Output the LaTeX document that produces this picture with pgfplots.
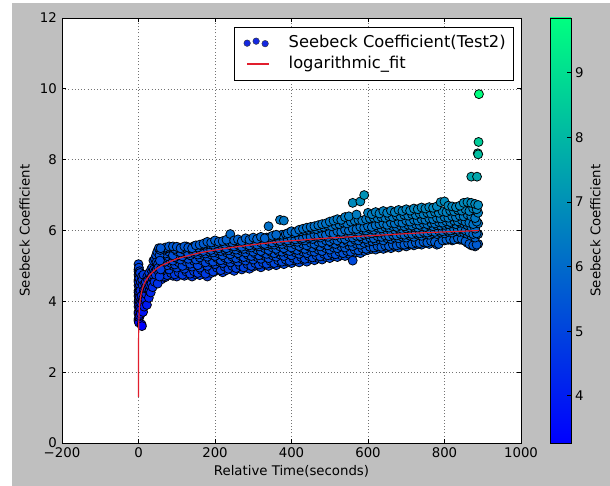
\documentclass[border=0pt]{standalone}
\usepackage{pgfplots}
\pgfplotsset{compat=1.18}
\usepackage{pgfplotstable}
\usepackage{fontspec}
\setmainfont{DejaVu Sans}

\definecolor{figgray}{RGB}{191,191,191}
\definecolor{fitred}{RGB}{225,30,45}
\definecolor{legblue}{RGB}{20,40,225}
\definecolor{winterlow}{RGB}{0,0,255}
\definecolor{winterhigh}{RGB}{0,255,128}

% Seebeck coefficient samples: five readings per 10 s window
\pgfplotstableread{
x   a    b    c    d    e
60  4.62 4.85 5.05 5.28 5.48
70  4.68 4.95 5.12 5.35 5.52
80  4.75 4.90 5.20 5.40 5.55
90  4.72 5.00 5.15 5.30 5.55
100 4.70 4.95 5.22 5.42 5.54
110 4.78 5.05 5.18 5.38 5.50
120 4.72 4.92 5.25 5.45 5.55
130 4.80 5.02 5.20 5.35 5.52
140 4.70 4.98 5.28 5.44 5.50
150 4.76 5.06 5.18 5.40 5.58
160 4.74 4.95 5.24 5.46 5.60
170 4.82 5.08 5.30 5.42 5.63
180 4.70 5.00 5.26 5.50 5.68
190 4.80 5.10 5.32 5.45 5.66
200 4.85 5.05 5.28 5.52 5.72
210 4.90 5.12 5.35 5.50 5.68
220 4.82 5.08 5.30 5.55 5.70
230 4.88 5.15 5.38 5.50 5.74
240 4.92 5.10 5.33 5.58 5.90
250 4.86 5.18 5.40 5.55 5.72
260 4.95 5.12 5.36 5.60 5.75
270 4.90 5.20 5.42 5.54 5.70
280 5.00 5.15 5.38 5.62 5.78
290 4.92 5.22 5.45 5.58 5.74
300 4.98 5.18 5.40 5.65 5.80
310 5.02 5.25 5.46 5.60 5.76
320 4.96 5.20 5.42 5.66 5.82
330 5.05 5.28 5.50 5.62 5.78
340 5.00 5.22 5.45 5.70 6.12
350 5.06 5.30 5.52 5.66 5.85
360 5.02 5.26 5.48 5.72 5.88
370 5.10 5.32 5.55 5.70 6.30
380 5.05 5.28 5.50 5.75 6.28
390 5.12 5.35 5.58 5.72 5.92
400 5.08 5.30 5.52 5.78 5.98
410 5.15 5.38 5.60 5.75 5.95
420 5.10 5.34 5.56 5.80 6.02
430 5.18 5.40 5.62 5.78 6.05
440 5.12 5.36 5.58 5.84 6.08
450 5.20 5.42 5.65 5.82 6.10
460 5.16 5.40 5.62 5.88 6.12
470 5.22 5.46 5.68 5.85 6.15
480 5.18 5.42 5.66 5.90 6.18
490 5.25 5.50 5.72 5.88 6.20
500 5.22 5.46 5.70 5.95 6.25
510 5.28 5.52 5.75 5.92 6.28
520 5.25 5.50 5.72 5.98 6.32
530 5.30 5.55 5.78 5.96 6.30
540 5.28 5.52 5.76 6.02 6.38
550 5.34 5.58 5.82 6.00 6.40
560 5.15 5.56 5.80 6.05 6.78
570 5.38 5.62 5.85 6.04 6.45
580 5.36 5.60 5.84 6.10 6.82
590 5.42 5.65 5.88 6.08 7.00
600 5.45 5.68 5.90 6.12 6.50
610 5.48 5.70 5.92 6.10 6.46
620 5.46 5.72 5.95 6.15 6.52
630 5.50 5.75 5.94 6.18 6.48
640 5.48 5.72 5.98 6.20 6.55
650 5.52 5.78 6.00 6.16 6.50
660 5.50 5.76 5.98 6.22 6.56
670 5.55 5.80 6.02 6.20 6.52
680 5.52 5.78 6.05 6.25 6.58
690 5.58 5.82 6.04 6.22 6.55
700 5.55 5.80 6.06 6.28 6.60
710 5.60 5.85 6.08 6.25 6.56
720 5.58 5.82 6.10 6.30 6.62
730 5.62 5.88 6.08 6.28 6.60
740 5.60 5.85 6.12 6.32 6.65
750 5.65 5.90 6.10 6.30 6.62
760 5.62 5.88 6.14 6.34 6.66
770 5.68 5.92 6.12 6.32 6.64
780 5.60 5.90 6.15 6.36 6.68
790 5.70 5.94 6.14 6.34 6.80
800 5.72 5.92 6.16 6.38 6.82
810 5.74 5.96 6.18 6.36 6.70
820 5.72 5.94 6.20 6.40 6.68
830 5.76 5.98 6.18 6.38 6.66
840 5.74 5.96 6.22 6.42 6.70
850 5.72 5.95 6.20 6.40 6.78
860 5.65 5.90 6.15 6.45 6.80
870 5.58 5.85 6.10 6.40 6.78
880 5.55 5.80 6.05 6.35 6.75
888 5.62 5.90 6.20 6.50 6.72
}\seebeck

% readings taken half-way between the windows above
\pgfplotstableread{
x   p    q    r    s
65  4.70 4.98 5.22 5.45
75  4.74 5.02 5.28 5.50
85  4.80 5.08 5.32 5.52
95  4.76 5.04 5.25 5.48
105 4.82 5.10 5.30 5.52
115 4.75 5.00 5.27 5.48
125 4.84 5.12 5.34 5.55
135 4.78 5.06 5.30 5.50
145 4.85 5.14 5.36 5.56
155 4.80 5.02 5.32 5.52
165 4.88 5.16 5.38 5.58
175 4.78 5.10 5.35 5.60
185 4.90 5.18 5.40 5.62
195 4.84 5.12 5.38 5.60
205 4.95 5.22 5.44 5.64
215 4.88 5.16 5.42 5.66
225 4.98 5.24 5.46 5.62
235 4.92 5.20 5.44 5.68
245 5.00 5.26 5.50 5.66
255 4.94 5.22 5.46 5.70
265 5.02 5.30 5.52 5.68
275 4.96 5.25 5.48 5.72
285 5.05 5.32 5.55 5.70
295 5.00 5.28 5.52 5.75
305 5.08 5.35 5.58 5.72
315 5.04 5.30 5.55 5.78
325 5.10 5.38 5.60 5.76
335 5.06 5.34 5.58 5.80
345 5.14 5.40 5.62 5.82
355 5.08 5.36 5.60 5.84
365 5.16 5.42 5.65 5.86
375 5.12 5.40 5.62 5.88
385 5.18 5.45 5.68 5.90
395 5.14 5.42 5.66 5.94
405 5.22 5.48 5.70 5.92
415 5.18 5.45 5.68 5.96
425 5.25 5.52 5.74 5.98
435 5.20 5.48 5.72 6.00
445 5.28 5.55 5.78 6.02
455 5.24 5.52 5.76 6.05
465 5.30 5.58 5.82 6.04
475 5.27 5.55 5.80 6.08
485 5.34 5.62 5.85 6.10
495 5.30 5.58 5.82 6.14
505 5.36 5.65 5.88 6.12
515 5.33 5.62 5.86 6.16
525 5.40 5.68 5.92 6.18
535 5.36 5.65 5.90 6.22
545 5.42 5.70 5.95 6.20
555 5.40 5.68 5.92 6.25
565 5.46 5.74 5.98 6.28
575 5.44 5.72 5.96 6.30
585 5.50 5.78 6.02 6.28
595 5.48 5.76 6.00 6.32
605 5.54 5.80 6.05 6.34
615 5.52 5.78 6.02 6.36
625 5.56 5.84 6.08 6.35
635 5.54 5.82 6.06 6.38
645 5.58 5.86 6.10 6.36
655 5.56 5.84 6.08 6.40
665 5.60 5.88 6.12 6.38
675 5.58 5.86 6.10 6.42
685 5.62 5.90 6.14 6.40
695 5.60 5.88 6.12 6.44
705 5.64 5.92 6.16 6.42
715 5.62 5.90 6.14 6.46
725 5.66 5.94 6.18 6.44
735 5.64 5.92 6.16 6.48
745 5.68 5.96 6.20 6.46
755 5.66 5.94 6.18 6.50
765 5.70 5.98 6.22 6.48
775 5.68 5.96 6.20 6.52
785 5.62 6.00 6.24 6.50
795 5.72 5.98 6.22 6.54
805 5.74 6.02 6.26 6.52
815 5.76 6.00 6.24 6.56
825 5.74 6.04 6.28 6.54
835 5.78 6.02 6.26 6.58
845 5.76 6.05 6.30 6.56
855 5.70 6.00 6.25 6.60
865 5.62 5.95 6.22 6.55
875 5.58 5.90 6.18 6.62
884 5.60 5.92 6.25 6.60
}\seebeckmid

% start-up transient (first minute) and the final spikes
\pgfplotstableread{
x   y
0   5.05
0   4.90
0   4.75
0   4.60
0   4.45
0   4.30
0   4.15
0   4.00
0   3.85
0   3.70
0   3.50
0   4.85
0   4.55
0   4.25
0   3.95
0   3.65
0   3.45
1   3.40
1   4.95
1   4.20
1   4.70
1   4.05
2   4.40
2   3.90
2   4.65
2   3.55
2   4.25
3   3.60
3   4.10
3   4.85
3   3.80
4   4.80
4   4.45
5   3.75
5   4.30
5   4.00
6   4.55
6   3.65
7   3.95
8   3.35
8   4.15
9   3.30
9   4.70
10  4.60
11  4.00
11  4.45
12  3.70
13  4.10
13  4.75
14  4.30
15  3.85
16  4.25
17  4.50
18  4.05
19  4.55
20  4.20
21  4.35
22  3.90
23  4.70
24  4.35
25  4.60
26  4.45
27  4.10
28  4.80
29  4.30
30  4.45
31  4.65
32  4.25
33  4.90
34  4.50
35  4.70
36  4.95
37  4.40
38  4.65
39  5.15
40  4.90
41  4.70
42  4.55
43  5.20
44  4.85
45  4.75
46  5.30
47  5.10
48  4.90
49  5.40
50  4.50
51  5.05
52  4.95
53  5.50
54  4.80
55  4.70
55  5.30
56  5.15
57  5.45
58  5.50
58  4.90
870 7.52
885 7.52
887 8.18
888 8.15
889 8.50
890 9.85
}\seebeckedge

% logarithmic fit S = a + b ln t
\pgfplotstableread{
x      y
0.0025 1.30
0.01   1.81
0.03   2.21
0.1    2.65
0.3    3.06
1      3.50
1.5    3.65
2      3.76
3      3.90
4      4.01
5      4.09
7      4.22
10     4.35
15     4.50
20     4.60
25     4.68
30     4.75
40     4.86
50     4.94
60     5.01
70     5.06
80     5.11
100    5.20
130    5.29
160    5.37
200    5.45
250    5.53
300    5.60
350    5.66
400    5.71
450    5.75
500    5.79
550    5.82
600    5.85
650    5.88
700    5.91
750    5.94
800    5.96
850    5.98
890    6.00
}\logfit

\tikzset{lbl/.style={font=\fontsize{13.3bp}{16bp}\selectfont}}

\begin{document}
\begin{tikzpicture}
\useasboundingbox (0,0) rectangle (610bp,486bp);
\fill[white] (0,0) rectangle (610bp,486bp);
\fill[figgray] (12bp,0) rectangle (610bp,483bp);
\begin{axis}[
  at={(62bp,43bp)}, anchor=south west,
  scale only axis, width=459bp, height=425bp,
  xmin=-200, xmax=1000, ymin=0, ymax=12,
  xtick={-200,0,200,400,600,800,1000},
  xticklabels={−200,0,200,400,600,800,1000},
  ytick={0,2,4,6,8,10,12},
  yticklabels={0,2,4,6,8,10,12},
  tick align=inside, major tick length=4bp,
  axis line style={line width=0.9bp},
  every tick/.style={black, line width=0.8bp},
  axis background/.style={fill=white},
  grid=major,
  grid style={black!55, line width=0.6bp, dash pattern=on 1bp off 2.2bp},
  clip marker paths=true,
  xticklabel style={lbl, anchor=north, inner sep=0pt, yshift=-4bp},
  yticklabel style={lbl, anchor=east, inner sep=0pt, xshift=-5bp},
  xlabel={Relative Time(seconds)},
  ylabel={Seebeck Coefficient},
  xlabel style={lbl, at={(axis description cs:0.5,-0.0753)}, anchor=base, inner sep=0pt},
  ylabel style={lbl, at={(axis description cs:-0.0697,0.5)}, anchor=south, inner sep=0pt},
  colormap={winter}{rgb255=(0,0,255) rgb255=(0,255,128)},
  point meta min=3.27, point meta max=9.85,
  legend cell align=left,
  legend style={
    at={(rel axis cs:0.985,0.979)}, anchor=north east,
    draw=black, line width=0.9bp, fill=white,
    font=\fontsize{16.3bp}{19bp}\selectfont,
    inner xsep=8bp, inner ysep=7.8bp, row sep=5.3bp,
    nodes={inner sep=0pt, text height=12bp, text depth=4bp},
  },
  scatterpts/.style={
    scatter, only marks, mark=*, mark size=4.5bp,
    scatter/use mapped color={draw=black, fill=mapped color, line width=0.75bp},
  },
]
\addplot[scatterpts,
  legend image code/.code={
    \path (-4bp,0) (41bp,0);
    \filldraw[fill=legblue, draw=black!80, line width=0.4bp] (0bp,0bp) circle (3.3bp);
    \filldraw[fill=legblue, draw=black!80, line width=0.4bp] (9bp,2bp) circle (3.3bp);
    \filldraw[fill=legblue, draw=black!80, line width=0.4bp] (18bp,-0.5bp) circle (3.3bp);
  }] table[x=x, y=a] {\seebeck};
\addlegendentry{Seebeck Coefficient(Test2)}
\addplot[scatterpts, forget plot] table[x=x, y=p] {\seebeckmid};
\addplot[scatterpts, forget plot] table[x=x, y=b] {\seebeck};
\addplot[scatterpts, forget plot] table[x=x, y=q] {\seebeckmid};
\addplot[scatterpts, forget plot] table[x=x, y=c] {\seebeck};
\addplot[scatterpts, forget plot] table[x=x, y=r] {\seebeckmid};
\addplot[scatterpts, forget plot] table[x=x, y=d] {\seebeck};
\addplot[scatterpts, forget plot] table[x=x, y=s] {\seebeckmid};
\addplot[scatterpts, forget plot] table[x=x, y=e] {\seebeck};
\addplot[scatterpts, forget plot] table[x=x, y=y] {\seebeckedge};
\addplot[fitred, line width=1.2bp, no marks,
  legend image code/.code={
    \path (-4bp,0) (41bp,0);
    \draw[fitred, line width=1.6bp] (0bp,0.7bp) -- (22bp,0.7bp);
  }] table[x=x, y=y] {\logfit};
\addlegendentry{logarithmic\_fit}
\end{axis}

% colour scale of the winter map, 3.27 (blue) to 9.85 (green)
\begin{axis}[
  at={(550bp,43bp)}, anchor=south west,
  scale only axis, width=21bp, height=425bp,
  xmin=0, xmax=1, ymin=3.27, ymax=9.85,
  xtick=\empty,
  ytick={4,5,6,7,8,9}, yticklabels={4,5,6,7,8,9},
  ytick pos=right, yticklabel pos=right,
  tick align=inside, major tick length=4bp,
  every tick/.style={black, line width=0.8bp},
  axis line style={line width=0.9bp},
  axis on top,
  yticklabel style={lbl, anchor=west, inner sep=0pt, xshift=4bp},
  ylabel={Seebeck Coefficient},
  ylabel style={lbl, at={(axis description cs:1.905,0.5)}, anchor=north, inner sep=0pt},
]
\shade[bottom color=winterlow, top color=winterhigh]
  (rel axis cs:0,0) rectangle (rel axis cs:1,1);
\end{axis}
\end{tikzpicture}
\end{document}
